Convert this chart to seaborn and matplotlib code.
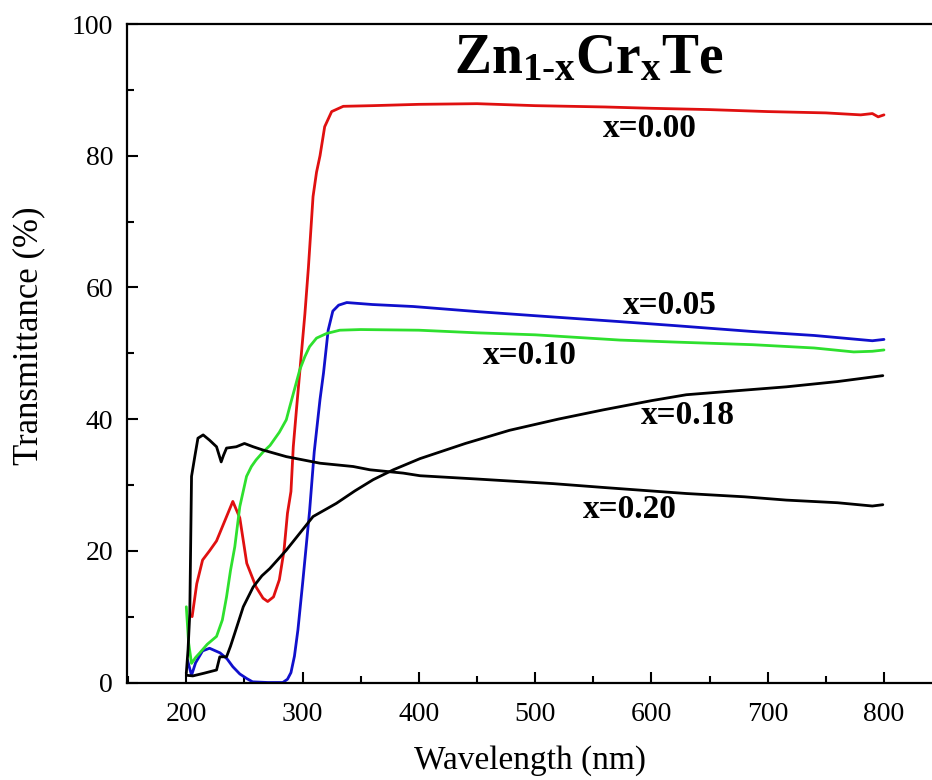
import numpy as np
import pandas as pd
import seaborn as sns
import matplotlib.pyplot as plt
from matplotlib.ticker import MultipleLocator

# x = 0.00
wl_000 = [205, 209, 214, 220, 226, 233, 240, 246, 252, 260, 266, 270, 275, 280, 284, 287,
          290, 292, 295, 298, 302, 305, 309, 312, 315, 319, 325, 335, 360, 400, 450, 500,
          560, 600, 650, 700, 750, 780, 790, 795, 800]
tr_000 = [10, 15, 18.6, 20, 21.5, 24.5, 27.5, 25, 18.1, 14.5, 12.8, 12.3, 13, 15.6, 20, 25.7,
          29, 35.8, 42, 48, 56, 63, 73.8, 77.5, 80, 84.4, 86.7, 87.5, 87.6, 87.8, 87.9, 87.6,
          87.4, 87.2, 87.0, 86.7, 86.5, 86.2, 86.4, 85.9, 86.2]

# x = 0.05
wl_005 = [201, 204.5, 208, 214, 220, 229, 235, 240, 246, 252, 257, 270, 283, 287, 290, 293,
          296, 300, 306, 310, 315, 318, 322, 326, 331, 338, 360, 395, 452, 500, 573, 620,
          687, 740, 790, 800]
tr_005 = [3.4, 1.1, 3, 4.8, 5.2, 4.5, 3.6, 2.4, 1.3, 0.6, 0.1, 0, 0, 0.5, 1.5, 4,
          8, 15, 26, 35, 43, 47, 53.5, 56.4, 57.3, 57.7, 57.4, 57.1, 56.3, 55.7, 54.8, 54.2,
          53.3, 52.7, 51.9, 52.1]

# x = 0.10
wl_010 = [200, 202, 204.5, 208, 211.6, 218, 226, 231, 234.6, 238, 241.7, 246, 251.8, 256,
          260, 266, 272, 280, 286, 289, 293, 297.6, 302, 306, 312, 320.6, 332, 350, 400, 450,
          500, 573, 620, 687, 740, 774, 790, 800]
tr_010 = [11.5, 6, 2.9, 3.8, 4.5, 5.8, 7, 9.5, 13, 17, 20.6, 26.7, 31.3, 32.8,
          33.8, 35, 36, 38, 39.9, 41.9, 44.5, 47.5, 49.5, 51, 52.3, 53, 53.5, 53.6, 53.5, 53.1,
          52.8, 52, 51.7, 51.3, 50.8, 50.2, 50.3, 50.5]

# x = 0.18
wl_018 = [200, 205.6, 215, 226, 228.8, 234.6, 238, 241.7, 249, 257.5, 265, 271.8, 286, 300,
          309, 329, 345, 360.7, 378, 401, 440, 478, 520, 558.5, 600, 630, 680, 716, 760, 799]
tr_018 = [1.1, 1.0, 1.4, 1.9, 3.9, 3.9, 5.5, 7.5, 11.5, 14.5, 16.2, 17.3, 20.1, 23.2,
          25.2, 27.2, 29.1, 30.8, 32.3, 34.0, 36.3, 38.3, 40.0, 41.4, 42.8, 43.7, 44.4, 44.9,
          45.7, 46.6]

# x = 0.20
wl_020 = [200, 201.5, 203, 204.5, 207.3, 210, 214.5, 220, 226, 230, 232, 234.6, 243, 250,
          257.5, 266, 286, 315, 343.5, 358, 386.5, 401, 450, 515.5, 560, 630, 680, 716, 760,
          790, 799]
tr_020 = [1.4, 5, 10.5, 31.3, 34.3, 37.1, 37.6, 36.8, 35.8, 33.5, 34.5, 35.6, 35.8, 36.3,
          35.8, 35.3, 34.3, 33.3, 32.8, 32.3, 31.8, 31.4, 30.9, 30.2, 29.6, 28.7, 28.2, 27.7,
          27.3, 26.8, 27.0]

series = [
    (wl_000, tr_000, '#e01010'),
    (wl_005, tr_005, '#1010cc'),
    (wl_010, tr_010, '#2ee02e'),
    (wl_018, tr_018, 'black'),
    (wl_020, tr_020, 'black'),
]

# label text, wavelength, transmittance
labels = [
    ('x=0.00', 599, 84.2),
    ('x=0.05', 616, 57.2),
    ('x=0.10', 495, 49.7),
    ('x=0.18', 631, 40.6),
    ('x=0.20', 581, 26.2),
]

sns.set_style('ticks')
plt.rcParams['font.family'] = ['Liberation Serif', 'DejaVu Serif']
plt.rcParams['mathtext.fontset'] = 'custom'
plt.rcParams['mathtext.rm'] = 'Liberation Serif'
plt.rcParams['mathtext.bf'] = 'Liberation Serif:bold'
plt.rcParams['mathtext.it'] = 'Liberation Serif:italic'
for k in ['text.color', 'axes.labelcolor', 'xtick.color', 'ytick.color', 'axes.edgecolor']:
    plt.rcParams[k] = 'black'

fig = plt.figure(figsize=(9.32, 7.8), dpi=100)
ax = fig.add_axes([127 / 932, 97.5 / 780, 805 / 932, 658.5 / 780])

for wl, tr, c in series:
    df = pd.DataFrame({'wl': wl, 'T': tr})
    sns.lineplot(data=df, x='wl', y='T', color=c, lw=2.0, ax=ax)

for txt, xw, yt in labels:
    ax.text(xw, yt, txt, fontsize=24, fontweight='bold', ha='center', va='center')

ax.text(546, 94.6, r'$\mathbf{Zn_{1\text{-}x}Cr_{x}Te}$', fontsize=40,
        ha='center', va='center')

ax.set_xlim(149, 841.3)
ax.set_ylim(0, 100)
ax.xaxis.set_major_locator(MultipleLocator(100))
ax.xaxis.set_minor_locator(MultipleLocator(50))
ax.yaxis.set_major_locator(MultipleLocator(20))
ax.yaxis.set_minor_locator(MultipleLocator(10))
ax.tick_params(which='both', direction='in', width=1.5, labelsize=20)
ax.tick_params(axis='x', pad=14)
ax.tick_params(axis='y', pad=10)
ax.tick_params(which='major', length=8)
ax.tick_params(which='minor', length=5)
ax.spines['right'].set_visible(False)
for s in ['left', 'bottom', 'top']:
    ax.spines[s].set_linewidth(1.6)

ax.set_xlabel('Wavelength (nm)', fontsize=24, labelpad=13)
ax.set_ylabel('Transmittance (%)', fontsize=25)
ax.yaxis.set_label_coords(-0.102, 0.526)

plt.savefig('out.png', dpi=100)
